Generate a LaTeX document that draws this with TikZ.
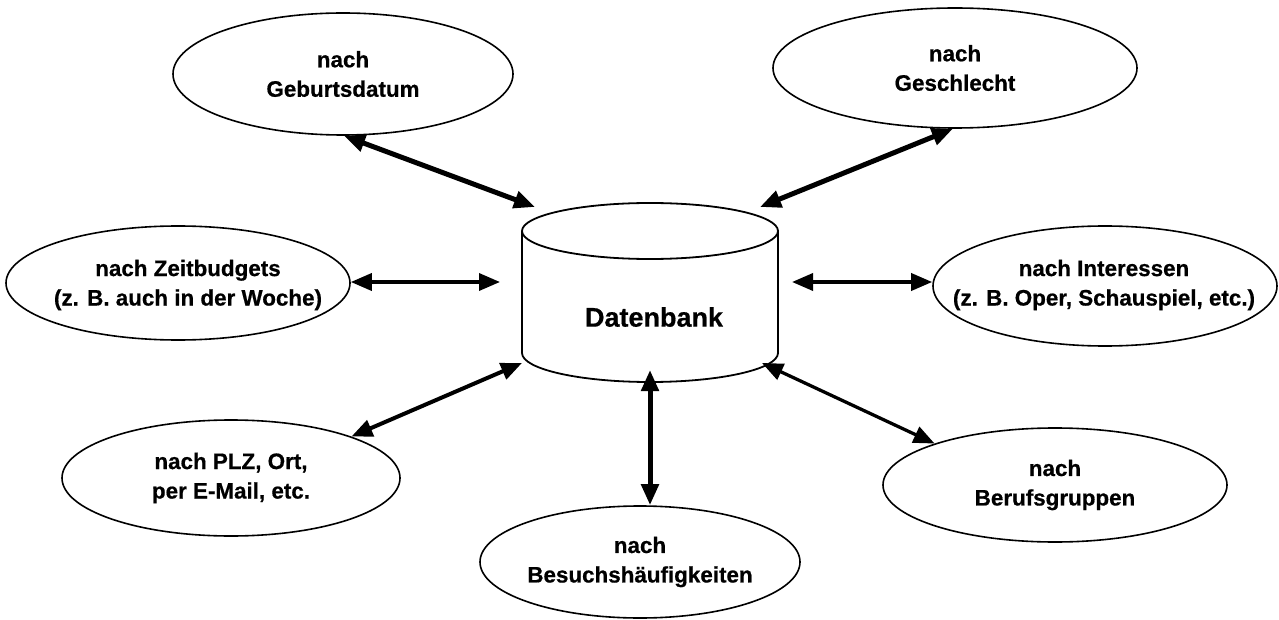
\documentclass[tikz,border=0pt]{standalone}
\usepackage{fontspec}
\setmainfont{Liberation Sans}[BoldFeatures={FakeBold=0.6}]
\usetikzlibrary{shapes.geometric,arrows.meta}

\begin{document}
\begin{tikzpicture}[x=1pt,y=-1pt,
  oval/.style={draw, ellipse, line width=1.6pt, inner sep=0pt},
  lbl/.style={font=\bfseries\fontsize{22.4}{29.5}\selectfont, align=center, inner sep=0pt},
  dblbl/.style={font=\bfseries\fontsize{27}{32}\selectfont, inner sep=0pt},
  link/.style={{Triangle[length=21pt,width=17pt]}-{Triangle[length=21pt,width=17pt]}},
]
\useasboundingbox (0,0) rectangle (1279,620);

% the database cylinder
\draw[line width=1.8pt] (522,231) -- (522,353)
  arc[start angle=180, end angle=0, x radius=128, y radius=29] -- (778,231);
\draw[line width=1.8pt] (650,231) ellipse [x radius=128, y radius=28];
\node[dblbl] (db) at (654,317) {Datenbank};

% criteria around the database
\node[oval, minimum width=340pt, minimum height=122pt] (geb) at (343,74) {};
\node[lbl] (gebT) at (geb) {nach\\Geburtsdatum};
\node[oval, minimum width=364pt, minimum height=120pt] (ges) at (955,68) {};
\node[lbl] (gesT) at (ges) {nach\\Geschlecht};
\node[oval, minimum width=344pt, minimum height=114pt] (zeit) at (178,283) {};
\node[lbl] (zeitT) at (188,285) {nach Zeitbudgets\\(z. B. auch in der Woche)};
\node[oval, minimum width=344pt, minimum height=120pt] (int) at (1105,286) {};
\node[lbl] (intT) at (1104,285) {nach Interessen\\(z. B. Oper, Schauspiel, etc.)};
\node[oval, minimum width=338pt, minimum height=116pt] (plz) at (231,478) {};
\node[lbl] (plzT) at (plz) {nach PLZ, Ort,\\per E-Mail, etc.};
\node[oval, minimum width=344pt, minimum height=114pt] (ber) at (1055,485) {};
\node[lbl] (berT) at (ber) {nach\\Berufsgruppen};
\node[oval, minimum width=320pt, minimum height=112pt] (bes) at (640,562) {};
\node[lbl] (besT) at (bes) {nach\\Besuchsh\"aufigkeiten};

% arrow ends at the cylinder
\coordinate (dGeb) at (535,207);
\coordinate (dGes) at (760,207);
\coordinate (dZeit) at (500,282);
\coordinate (dInt) at (792,282);
\coordinate (dPlz) at (522,363);
\coordinate (dBes) at (650,370);
\coordinate (dBer) at (762,363);

% double-headed connectors
\draw[link, line width=5pt] (geb.-89) -- (dGeb);
\draw[link, line width=5pt] (ges.-92) -- (dGes);
\draw[link, line width=3.5pt] (zeit.east |- dZeit) -- (dZeit);
\draw[link, line width=3.5pt] (int.west |- dInt) -- (dInt);
\draw[link, line width=4pt] (plz.19) -- (dPlz);
\draw[link, line width=3.3pt] (ber.161) -- (dBer);
\draw[link, line width=5pt] (dBes |- bes.north) -- (dBes);
\end{tikzpicture}
\end{document}
